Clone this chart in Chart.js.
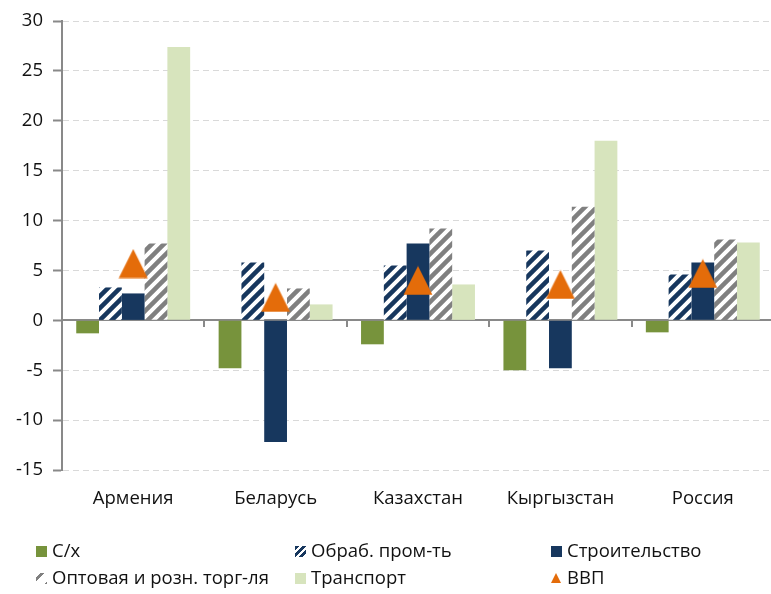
<!DOCTYPE html>
<html><head><meta charset="utf-8">
<script src="https://cdn.jsdelivr.net/npm/chart.js@4.4.1/dist/chart.umd.min.js"></script>
<style>
html,body{margin:0;padding:0;overflow:hidden;background:#fff;width:771px;height:594px;}
#wrap{position:absolute;left:0;top:0;width:790px;height:594px;}
.lg{position:absolute;font-family:'Open Sans';font-size:18.5px;color:#111;line-height:22px;white-space:nowrap;}
.ic{position:absolute;width:11px;height:11px;}
</style></head><body>
<div id="wrap"><canvas id="c" width="790" height="594"></canvas></div>
<div id="legend"></div>
<script>
// ---- data ----
const categories = ['Армения', 'Беларусь', 'Казахстан', 'Кыргызстан', 'Россия'];
const seriesNames = ['С/х', 'Обраб. пром-ть', 'Строительство', 'Оптовая и розн. торг-ля', 'Транспорт', 'ВВП'];
const agriculture = [-1.3, -4.8, -2.4, -5.0, -1.2];
const manufacturing = [3.3, 5.8, 5.5, 7.0, 4.6];
const construction = [2.7, -12.2, 7.7, -4.8, 5.8];
const trade = [7.7, 3.2, 9.2, 11.4, 8.1];
const transport = [27.4, 1.6, 3.6, 18.0, 7.8];
const gdp = [5.7, 2.3, 4.0, 3.6, 4.7];
const yTicks = [-15, -10, -5, 0, 5, 10, 15, 20, 25, 30];

// ---- styles ----
const NAVY = '#17375E', GREEN = '#77933C', LIGHT = '#D7E4BD', GREY = '#808080', ORANGE = '#E46C0A', AXIS = '#898989';
const FONT = {family: "'Open Sans'", size: 18.5};

function stripe(color) {
  const s = 12;
  const cv = document.createElement('canvas');
  cv.width = s; cv.height = s;
  const g = cv.getContext('2d');
  g.fillStyle = '#fff'; g.fillRect(0, 0, s, s);
  g.strokeStyle = color; g.lineWidth = 4.5; g.lineCap = 'square';
  g.beginPath();
  g.moveTo(-2, 2); g.lineTo(2, -2);
  g.moveTo(0, s); g.lineTo(s, 0);
  g.moveTo(s - 2, s + 2); g.lineTo(s + 2, s - 2);
  g.stroke();
  return g.createPattern(cv, 'repeat');
}
function triangle(size, color) {
  const cv = document.createElement('canvas');
  cv.width = size; cv.height = size;
  const g = cv.getContext('2d');
  g.fillStyle = color;
  g.beginPath();
  g.moveTo(size / 2, 0.5); g.lineTo(size - 0.5, size - 0.5); g.lineTo(0.5, size - 0.5);
  g.closePath(); g.fill();
  return cv;
}

const ctx = document.getElementById('c').getContext('2d');
new Chart(ctx, {
  type: 'bar',
  data: {
    labels: categories,
    datasets: [
      {label: seriesNames[0], data: agriculture, backgroundColor: GREEN, order: 1},
      {label: seriesNames[1], data: manufacturing, backgroundColor: stripe(NAVY), order: 1},
      {label: seriesNames[2], data: construction, backgroundColor: NAVY, order: 1},
      {label: seriesNames[3], data: trade, backgroundColor: stripe(GREY), order: 1},
      {label: seriesNames[4], data: transport, backgroundColor: LIGHT, order: 1},
      {type: 'line', label: seriesNames[5], data: gdp, showLine: false, pointStyle: triangle(30, ORANGE),
       pointRadius: 15, backgroundColor: ORANGE, borderColor: ORANGE, order: 0}
    ]
  },
  options: {
    responsive: false, animation: false, devicePixelRatio: 1,
    layout: {padding: {top: 19, right: 8, left: 0, bottom: 0}},
    datasets: {bar: {categoryPercentage: 0.8, barPercentage: 1, borderWidth: 0}},
    plugins: {legend: {display: false}, tooltip: {enabled: false}},
    scales: {
      x: {type: 'category', position: 'bottom', offset: true,
          grid: {display: false, drawTicks: false}, border: {display: false},
          ticks: {padding: 18, color: '#111', font: FONT, maxRotation: 0, autoSkip: false},
          afterFit: s => { s.height = 124; }},
      x0: {type: 'category', position: {y: 0}, offset: true,
           grid: {offset: true, display: true, drawOnChartArea: false, drawTicks: true, tickLength: 6, color: AXIS, lineWidth: 2},
           border: {display: true, color: AXIS, width: 2},
           ticks: {display: false}},
      y: {type: 'linear', min: yTicks[0], max: yTicks[yTicks.length - 1],
          afterBuildTicks: s => { s.ticks = yTicks.map(v => ({value: v})); },
          ticks: {padding: 10, color: '#111', font: FONT},
          grid: {color: '#D9D9D9', lineWidth: 1, tickColor: AXIS, tickWidth: 2, tickLength: 9, tickBorderDash: []},
          border: {display: true, color: AXIS, width: 2, dash: [6, 4]},
          afterFit: s => { s.width = 62; }}
    }
  }
});

// ---- HTML legend ----
const legendPos = [[36, 551], [295, 551], [551, 551], [36, 578], [295, 578], [551, 578]];
const icons = [
  `background:${GREEN}`,
  `background:repeating-linear-gradient(135deg, ${NAVY} 0 3px, #fff 3px 5px)`,
  `background:${NAVY}`,
  `background:repeating-linear-gradient(135deg, #fff 0 3px, ${GREY} 3px 6px, #fff 6px 11px)`,
  `background:${LIGHT}`,
  `background:${ORANGE};clip-path:polygon(50% 0,100% 100%,0 100%);width:10px;height:10px`
];
const lg = document.getElementById('legend');
seriesNames.forEach((name, i) => {
  const [x, y] = legendPos[i];
  const ic = document.createElement('div');
  ic.className = 'ic';
  ic.style.cssText = icons[i];
  ic.style.left = x + 'px'; ic.style.top = (y - 5) + 'px';
  lg.appendChild(ic);
  const t = document.createElement('div');
  t.className = 'lg';
  t.textContent = name;
  t.style.left = (x + 16) + 'px'; t.style.top = (y - 12) + 'px';
  lg.appendChild(t);
});
</script>
</body></html>
